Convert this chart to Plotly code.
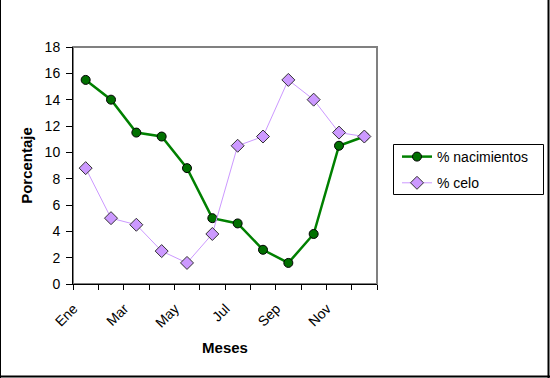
import plotly.graph_objects as go

meses = ["Ene", "Feb", "Mar", "Abr", "May", "Jun", "Jul", "Ago", "Sep", "Oct", "Nov", "Dic"]
tick_labels = ["Ene", "", "Mar", "", "May", "", "Jul", "", "Sep", "", "Nov", ""]
nacimientos = [15.5, 14.0, 11.5, 11.2, 8.8, 5.0, 4.6, 2.6, 1.6, 3.8, 10.5, 11.2]
celo = [8.8, 5.0, 4.5, 2.5, 1.6, 3.8, 10.5, 11.2, 15.5, 14.0, 11.5, 11.2]

FONT = "Arial, Liberation Sans, sans-serif"
W, H = 550, 378
L, R, T, B = 73, 173, 47, 94
PW, PH = W - L - R, H - T - B


def px_x(p):
    return (p - L) / PW


def px_y(p):
    return (H - B - p) / PH


fig = go.Figure()
fig.add_trace(go.Scatter(
    x=meses, y=nacimientos, name="% nacimientos", mode="lines+markers",
    legendgroup="a",
    line=dict(color="#008000", width=2.5),
    marker=dict(symbol="circle", size=9, color="#007000", line=dict(color="#000000", width=1)),
))
fig.add_trace(go.Scatter(
    x=meses, y=celo, name="% celo", mode="lines+markers",
    legendgroup="b",
    line=dict(color="#CC99FF", width=1),
    marker=dict(symbol="diamond", size=10, color="#CC99FF", line=dict(color="#333333", width=1)),
))

shapes = [
    # plot area border
    dict(type="rect", xref="paper", yref="paper", x0=0, x1=1, y0=0, y1=1,
         line=dict(color="#808080", width=2), layer="below"),
    # legend box
    dict(type="rect", xref="paper", yref="paper", x0=px_x(393.5), x1=px_x(543.5),
         y0=px_y(194.5), y1=px_y(144.5), line=dict(color="#000000", width=1), layer="above"),
    # outer chart border
    dict(type="line", xref="paper", yref="paper", x0=px_x(0.5), x1=px_x(0.5), y0=px_y(0), y1=px_y(H),
         line=dict(color="#000000", width=1)),
    dict(type="line", xref="paper", yref="paper", x0=px_x(548.5), x1=px_x(548.5), y0=px_y(0), y1=px_y(H),
         line=dict(color="#000000", width=2)),
    dict(type="line", xref="paper", yref="paper", x0=px_x(0), x1=px_x(W), y0=px_y(376.5), y1=px_y(376.5),
         line=dict(color="#000000", width=2)),
]

fig.update_layout(
    width=W, height=H,
    margin=dict(l=L, r=R, t=T, b=B, pad=0, autoexpand=False),
    paper_bgcolor="white", plot_bgcolor="white",
    font=dict(family=FONT, size=14, color="#000000"),
    shapes=shapes,
    showlegend=True,
    legend=dict(
        x=px_x(397), y=px_y(141), xanchor="left", yanchor="top",
        borderwidth=0, bgcolor="rgba(0,0,0,0)",
        font=dict(family=FONT, size=14, color="#000000"),
        tracegroupgap=5,
    ),
    xaxis=dict(
        type="category", categoryorder="array", categoryarray=meses,
        range=[-0.5, 11.5],
        tickmode="array", tickvals=meses, ticktext=tick_labels,
        tickson="boundaries", ticks="outside", ticklen=5, tickcolor="#000000",
        tickangle=-45, tickfont=dict(size=14, family=FONT, color="#000000"),
        ticklabelshift=-12, ticklabelstandoff=10,
        showline=True, linecolor="#000000", linewidth=1,
        showgrid=False, zeroline=False, automargin=False,
        title=dict(text="<b>Meses</b>", font=dict(size=15, family=FONT, color="#000000"), standoff=12),
    ),
    yaxis=dict(
        range=[0, 18], tickmode="linear", tick0=0, dtick=2,
        ticks="outside", ticklen=6, tickcolor="#000000",
        tickfont=dict(size=14, family=FONT, color="#000000"),
        ticklabelstandoff=3,
        showline=True, linecolor="#000000", linewidth=1,
        showgrid=False, zeroline=False, automargin=False,
        title=dict(text="<b>Porcentaje</b>", font=dict(size=15, family=FONT, color="#000000"), standoff=8),
    ),
)

fig.write_html("out.html", config={"displayModeBar": False},
               post_script="document.body.style.margin='0px';")
